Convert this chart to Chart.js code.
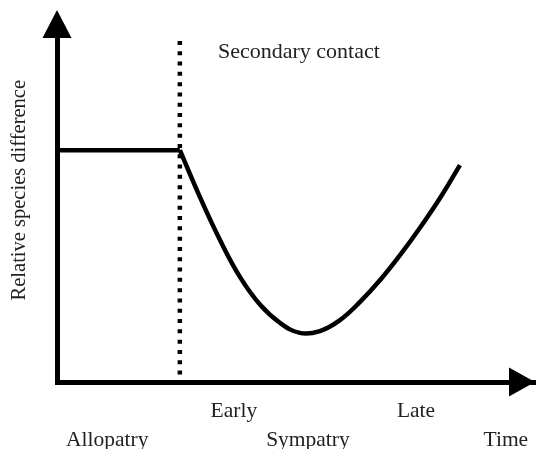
<!DOCTYPE html>
<html>
<head>
<meta charset="utf-8">
<script src="https://cdn.jsdelivr.net/npm/chart.js@4"></script>
<style>
  html, body { margin: 0; padding: 0; background: #fff; }
  #wrap { width: 536px; height: 449px; }
</style>
</head>
<body>
<div id="wrap"><canvas id="contact-chart"></canvas></div>
<script>
// allopatric plateau, then the dip and recovery after secondary contact
var plateauX = [0, 25.7];
var plateauY = [63.7, 63.7];
var curveX = [25.7, 29.9, 34.1, 38.3, 42.5, 46.7, 50.8, 55.0, 59.2, 63.4, 67.6, 71.8, 75.9, 80.1, 84.3];
var curveY = [63.7, 50.8, 39.0, 28.8, 21.2, 16.2, 13.5, 14.0, 17.0, 22.0, 28.0, 34.9, 42.3, 50.5, 59.6];
var contactX = [25.7, 25.7];
var contactY = [93.7, 0];

var stageLabels = ['Early', 'Late'];
var stageTicks = [37.0, 75.1];
var rangeLabels = ['Allopatry', 'Sympatry', 'Time'];
var rangeTicks = [10.5, 52.5, 93.9];
var contactLabel = 'Secondary contact';
var contactLabelAt = [50.6, 90.7];
var yTitle = 'Relative species difference';
var yTitleAt = 52.7;

function toPoints(xs, ys) {
  return xs.map(function(x, i) { return {x: x, y: ys[i]}; });
}

var serif = 'Liberation Serif';
var ink = '#222';

var arrowsAndText = {
  id: 'arrowsAndText',
  afterDraw: function(chart) {
    var ctx = chart.ctx;
    var a = chart.chartArea;
    var xs = chart.scales.x, ys = chart.scales.y;
    ctx.save();
    ctx.fillStyle = '#000';
    // y axis arrow
    ctx.beginPath();
    ctx.moveTo(a.left, a.top - 8);
    ctx.lineTo(a.left - 14.5, a.top + 20);
    ctx.lineTo(a.left + 14.5, a.top + 20);
    ctx.closePath();
    ctx.fill();
    // x axis arrow
    ctx.beginPath();
    ctx.moveTo(a.right, a.bottom);
    ctx.lineTo(a.right - 26, a.bottom - 14.5);
    ctx.lineTo(a.right - 26, a.bottom + 14.5);
    ctx.closePath();
    ctx.fill();

    ctx.fillStyle = ink;
    ctx.textAlign = 'center';
    ctx.textBaseline = 'middle';
    ctx.font = '22px "' + serif + '"';
    ctx.fillText(contactLabel, xs.getPixelForValue(contactLabelAt[0]), ys.getPixelForValue(contactLabelAt[1]));
    ctx.font = '21.5px "' + serif + '"';
    rangeLabels.forEach(function(t, i) {
      ctx.fillText(t, xs.getPixelForValue(rangeTicks[i]), a.bottom + 58);
    });
    ctx.font = '20.5px "' + serif + '"';
    ctx.translate(20, ys.getPixelForValue(yTitleAt));
    ctx.rotate(-Math.PI / 2);
    ctx.fillText(yTitle, 0, 0);
    ctx.restore();
  }
};

var lineStyle = {borderColor: '#000', borderWidth: 4.5, pointRadius: 0, fill: false};

var config = {
  type: 'line',
  data: {
    datasets: [
      Object.assign({label: 'Allopatry', data: toPoints(plateauX, plateauY), tension: 0}, lineStyle),
      Object.assign({label: 'Sympatry', data: toPoints(curveX, curveY), tension: 0.4}, lineStyle),
      {label: 'Secondary contact', data: toPoints(contactX, contactY), borderColor: '#000', borderWidth: 4.5,
        borderDash: [4, 6.3], borderCapStyle: 'butt', pointRadius: 0, fill: false, tension: 0}
    ]
  },
  options: {
    responsive: true,
    maintainAspectRatio: false,
    animation: false,
    layout: {padding: {top: 18, right: 1, left: 0, bottom: 0}},
    plugins: {
      legend: {display: false},
      title: {display: false},
      tooltip: {enabled: false}
    },
    scales: {
      x: {
        type: 'linear', min: 0, max: 100,
        grid: {display: false, drawTicks: false},
        border: {display: true, color: '#000', width: 5},
        afterBuildTicks: function(axis) {
          axis.ticks = stageTicks.map(function(v) { return {value: v}; });
        },
        ticks: {
          autoSkip: false, maxRotation: 0, padding: 16, color: ink,
          font: {family: serif, size: 21.5},
          callback: function(v, i) { return stageLabels[i]; }
        },
        afterFit: function(axis) { axis.height = 67; }
      },
      y: {
        type: 'linear', min: 0, max: 100,
        grid: {display: false, drawTicks: false},
        border: {display: true, color: '#000', width: 5},
        ticks: {display: false},
        afterFit: function(axis) { axis.width = 57; }
      }
    }
  },
  plugins: [arrowsAndText]
};

window.onload = function() {
  var ctx = document.getElementById('contact-chart').getContext('2d');
  window.contactChart = new Chart(ctx, config);
};
</script>
</body>
</html>
